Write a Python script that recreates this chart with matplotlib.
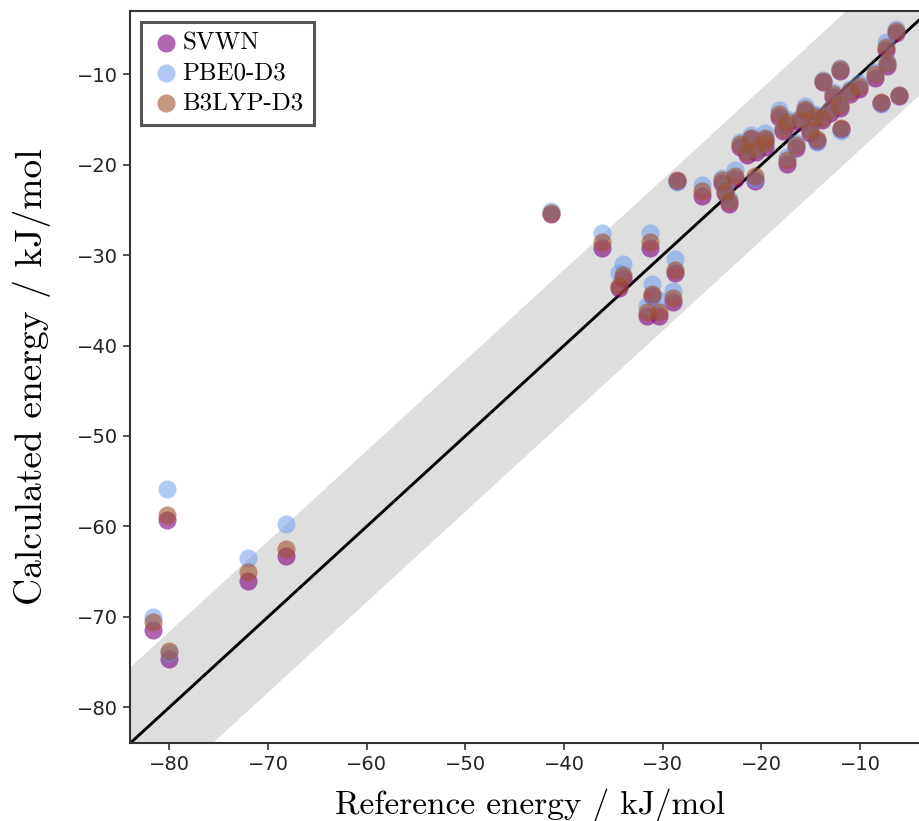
import numpy as np
import matplotlib
matplotlib.use("Agg")
import matplotlib.pyplot as plt

# === Data: reference vs calculated interaction energies (kJ/mol) ===
ref = [-81.7, -80.3, -80.1, -72.0, -68.2, -41.3, -36.2, -34.0, -34.4, -31.3,
       -31.1, -31.6, -30.4, -29.0, -28.8, -28.6, -26.0, -24.0, -23.7, -23.3,
       -22.7, -22.2, -21.5, -21.0, -20.6, -20.5, -19.6, -19.6, -18.2, -17.8,
       -17.4, -17.4, -16.5, -16.1, -15.6, -15.1, -14.7, -14.4, -13.9, -13.7,
       -13.0, -12.7, -12.0, -12.0, -11.9, -11.0, -10.1, -8.5, -7.9, -7.4,
       -7.3, -6.3, -6.0]

pbe0 = [-70.0, -55.9, -74.0, -63.5, -59.7, -25.1, -27.5, -31.0, -32.0, -27.6,
        -33.2, -35.6, -35.0, -34.0, -30.4, -21.9, -22.2, -21.5, -22.6, -23.8,
        -20.6, -17.5, -18.3, -16.7, -21.6, -18.1, -16.5, -17.4, -14.0, -15.8,
        -15.0, -19.2, -17.6, -14.8, -13.5, -15.9, -14.4, -17.5, -14.5, -10.6,
        -13.8, -12.0, -9.3, -13.2, -16.3, -11.6, -11.0, -9.8, -13.3, -6.4,
        -8.6, -5.0, -12.3]

b3lyp = [-70.6, -58.8, -73.8, -65.1, -62.5, -25.3, -28.5, -32.2, -33.4, -28.5,
         -34.3, -36.3, -36.3, -34.7, -31.7, -21.7, -22.9, -21.7, -22.9, -24.0,
         -21.3, -17.7, -18.6, -17.0, -21.3, -18.3, -17.0, -17.6, -14.4, -16.0,
         -15.3, -19.5, -17.8, -15.0, -13.8, -16.2, -14.6, -17.2, -14.8, -10.7,
         -14.0, -12.2, -9.4, -13.4, -15.9, -11.9, -11.3, -10.0, -13.1, -7.0,
         -8.8, -5.2, -12.3]

svwn = [-71.5, -59.3, -74.7, -66.1, -63.3, -25.5, -29.2, -32.5, -33.6, -29.2,
        -34.5, -36.7, -36.7, -35.2, -32.0, -21.8, -23.5, -22.0, -23.1, -24.4,
        -21.6, -18.0, -18.9, -17.2, -21.8, -18.6, -17.3, -18.0, -14.7, -16.3,
        -15.6, -19.9, -18.1, -15.3, -14.1, -16.5, -14.9, -17.4, -15.1, -10.9,
        -14.3, -12.5, -9.6, -13.7, -16.1, -12.2, -11.6, -10.4, -13.2, -7.3,
        -9.1, -5.4, -12.4]

lims = (-84, -3)
tolerance = 8.368  # 2 kcal/mol

# === Figure ===
fig = plt.figure(figsize=(9.19, 8.21), dpi=100)
ax = fig.add_axes([0.1415, 0.0946, 0.8694, 0.892])

diag = np.array([-100, 10])
ax.fill_between(diag, diag - tolerance, diag + tolerance, color="#dedede", lw=0, zorder=0)
ax.plot(diag, diag, color="black", lw=2.1, zorder=1)

ax.scatter(ref, svwn, s=170, color="purple", alpha=0.6, lw=0, label="SVWN", zorder=2)
ax.scatter(ref, pbe0, s=170, color="cornflowerblue", alpha=0.5, lw=0, label="PBE0-D3", zorder=3)
ax.scatter(ref, b3lyp, s=170, color="sienna", alpha=0.6, lw=0, label="B3LYP-D3", zorder=4)

ax.set_xlim(lims)
ax.set_ylim(lims)
ax.set_xticks(np.arange(-80, 0, 10))
ax.set_yticks(np.arange(-80, 0, 10))

ax.tick_params(labelsize=14, length=5, width=1.1, colors="#222222")
for sp in ax.spines.values():
    sp.set_linewidth(1.5)
    sp.set_color("#333333")

ax.set_xlabel("Reference energy / kJ/mol", family="cmr10", fontsize=24, labelpad=10)
ax.set_ylabel("Calculated energy / kJ/mol", family="cmr10", fontsize=27, labelpad=19)

leg = ax.legend(loc="upper left", prop={"family": "cmr10", "size": 18},
                fancybox=False, framealpha=1, edgecolor="#555555",
                handletextpad=0.05, borderaxespad=0.45, labelspacing=0.3,
                handlelength=1.2, borderpad=0.4)
leg.get_frame().set_linewidth(2.2)

fig.savefig("out.png", dpi=100)
